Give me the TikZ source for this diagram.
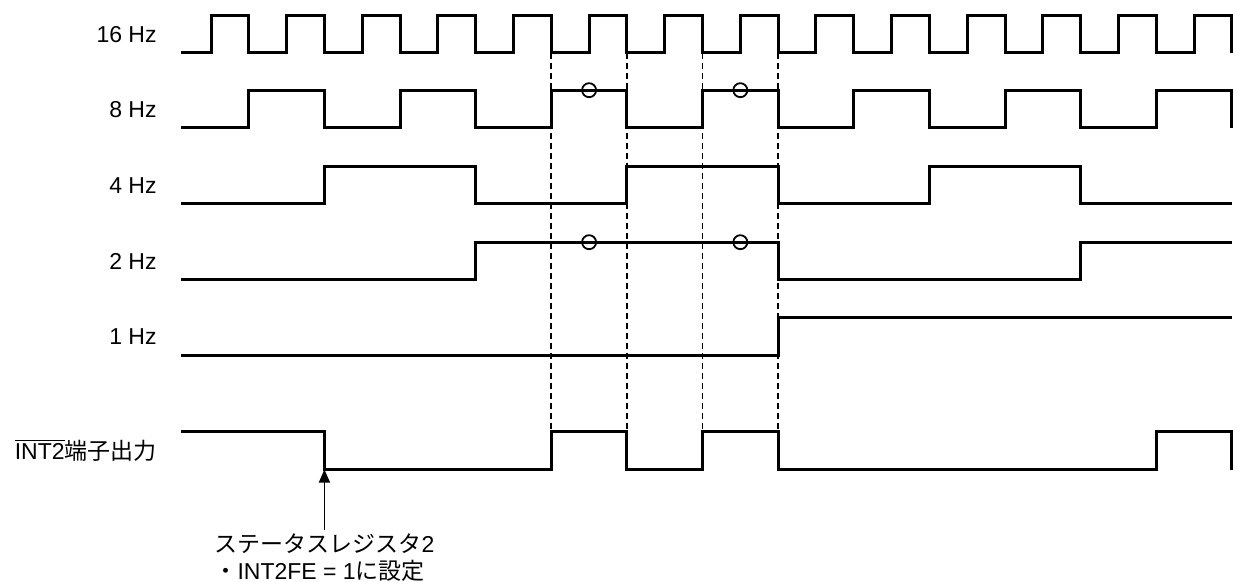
\documentclass[tikz,border=0pt]{standalone}
\usepackage{fontspec}
\setmainfont{Liberation Sans}
\newfontfamily\jpfont{Noto Sans CJK JP}
\usetikzlibrary{arrows.meta, positioning, math, calc}

\begin{document}
\begin{tikzpicture}[x=0.5pt, y=-0.5pt]
		\tikzmath{
			\uW   = 37.81; %half period of 16 Hz (also wave height)
			\xS   = 211;   %first edge of 16 Hz
			\xB   = 181;   %start of every wave
			\xL   = 157;   %right edge of labels
			\yA   = 53;    %low level 16 Hz
			\yB   = 128;   %low level 8 Hz
			\yC   = 204;   %low level 4 Hz
			\yD   = 280;   %low level 2 Hz
			\yE   = 355.5; %low level 1 Hz
			\yI   = 469.5; %low level INT2
		}
		\tikzstyle{Wave} = [
			line width=1.5pt
		]
		\tikzstyle{Guide} = [
			line width=0.9pt,
			dash pattern=on 3pt off 2pt
		]
		\tikzstyle{Mark} = [
			line width=0.9pt
		]
		\tikzstyle{Label} = [
			anchor=east,
			inner sep=0pt,
			font=\fontsize{11.5}{13.25}\selectfont
		]
		\tikzstyle{Note} = [
			align=left,
			inner sep=2pt,
			font=\fontsize{11.5}{13.25}\selectfont
		]

		\useasboundingbox (0,0) rectangle (1235,582);

		%%%%%%%%%%%%%%%%%%%%%%%%%%===---16 Hz---===%%%%%%%%%%%%%%%%%%%%%%%%%%
		\node (lab16) [Label] at (\xL, \yA-\uW/2) {16 Hz};
		\draw [Wave] (\xB, \yA) \foreach \k in {0,2,...,26} {
			-| (\xS+\k*\uW, \yA-\uW) -| (\xS+\k*\uW+\uW, \yA)
		};
		%%%%%%%%%%%%%%%%%%%%%%%%%%===---8 Hz---===%%%%%%%%%%%%%%%%%%%%%%%%%%
		\node (lab8) [Label] at (\xL, \yB-\uW/2) {8 Hz};
		\draw [Wave] (\xB, \yB) \foreach \k in {1,5,...,25} {
			-| (\xS+\k*\uW, \yB-\uW) -| (\xS+\k*\uW+2*\uW, \yB)
		};
		%%%%%%%%%%%%%%%%%%%%%%%%%%===---4 Hz---===%%%%%%%%%%%%%%%%%%%%%%%%%%
		\node (lab4) [Label] at (\xL, \yC-\uW/2) {4 Hz};
		\draw [Wave] (\xB, \yC) \foreach \k in {3,11,19} {
			-| (\xS+\k*\uW, \yC-\uW) -| (\xS+\k*\uW+4*\uW, \yC)
		} -- (\xS+27*\uW, \yC);
		%%%%%%%%%%%%%%%%%%%%%%%%%%===---2 Hz---===%%%%%%%%%%%%%%%%%%%%%%%%%%
		\node (lab2) [Label] at (\xL, \yD-\uW/2) {2 Hz};
		\draw [Wave] (\xB, \yD) -| (\xS+7*\uW, \yD-\uW) -| (\xS+15*\uW, \yD)
			-| (\xS+23*\uW, \yD-\uW) -- (\xS+27*\uW, \yD-\uW);
		%%%%%%%%%%%%%%%%%%%%%%%%%%===---1 Hz---===%%%%%%%%%%%%%%%%%%%%%%%%%%
		\node (lab1) [Label] at (\xL, \yE-\uW/2) {1 Hz};
		\draw [Wave] (\xB, \yE) -| (\xS+15*\uW, \yE-\uW) -- (\xS+27*\uW, \yE-\uW);
		%%%%%%%%%%%%%%%%%%%%%%%%%%===---INT2 OUTPUT---===%%%%%%%%%%%%%%%%%%%%%%%%%%
		\node (labInt) [Label] at (\xL, \yI-\uW/2) {$\overline{\mbox{INT2}}${\jpfont 端子出力}};
		\draw [Wave] (\xB, \yI-\uW) -| (\xS+3*\uW, \yI) -| (\xS+9*\uW, \yI-\uW)
			-| (\xS+11*\uW, \yI) -| (\xS+13*\uW, \yI-\uW) -| (\xS+15*\uW, \yI)
			-| (\xS+25*\uW, \yI-\uW) -| (\xS+27*\uW, \yI);
		%%%%%%%%%%%%%%%%%%%%%%%%%%===---GUIDES AND MARKS---===%%%%%%%%%%%%%%%%%%%%%%%%%%
		\foreach \k in {9,11,13,15}
			\draw [Guide] (\xS+\k*\uW, \yA) -- (\xS+\k*\uW, \yI-\uW);
		\foreach \k in {10,14} {
			\draw [Mark] (\xS+\k*\uW, \yB-\uW) circle [radius=3.5pt];
			\draw [Mark] (\xS+\k*\uW, \yD-\uW) circle [radius=3.5pt];
		}
		%%%%%%%%%%%%%%%%%%%%%%%%%%===---NOTE---===%%%%%%%%%%%%%%%%%%%%%%%%%%
		\coordinate (setPt) at (\xS+3*\uW, \yI);
		\node (note) [Note, below = 30pt of setPt] {{\jpfont ステータスレジスタ}2\\{\jpfont ・}INT2FE = 1{\jpfont に設定}};
		\draw [-{Triangle[length=6.5pt, width=5.5pt]}, line width=0.75pt] (note) -- (setPt);

	\end{tikzpicture}
\end{document}
